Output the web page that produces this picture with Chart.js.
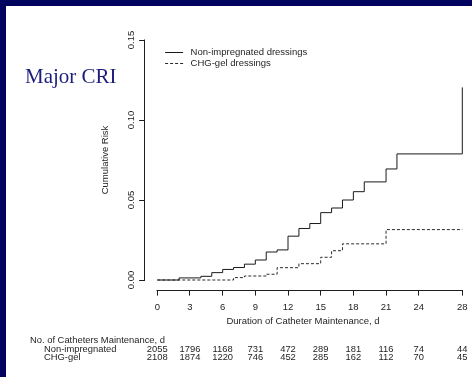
<!DOCTYPE html>
<html>
<head>
<meta charset="utf-8">
<title>Major CRI – cumulative risk</title>
<script src="https://cdn.jsdelivr.net/npm/chart.js@4.4.1/dist/chart.umd.min.js"></script>
<style>
  html, body { margin: 0; padding: 0; background: #fff; overflow: hidden; }
  #frame { position: relative; width: 472px; height: 377px; overflow: hidden; background: #fff; }
  #chart { position: absolute; left: 0; top: 0; }
  .bar-top { position: absolute; left: 0; top: 0; width: 472px; height: 6px; background: #02025f; }
  .bar-left { position: absolute; left: 0; top: 0; width: 6px; height: 377px; background: #02025f; }
</style>
</head>
<body>
<div id="frame">
  <canvas id="chart" width="480" height="377"></canvas>
  <div class="bar-top"></div>
  <div class="bar-left"></div>
</div>
<script>
// Kaplan–Meier style cumulative risk of major CRI by dressing type
const nonImpDays = [0, 2, 4, 5, 6, 7, 8, 9, 10, 11, 12, 13, 14, 15, 16, 17, 18, 19, 21, 22, 28];
const nonImpRisk = [0, 0.0013, 0.0023, 0.0046, 0.0066, 0.0078, 0.0099, 0.0125, 0.0175, 0.0188,
                    0.0274, 0.0322, 0.0353, 0.0421, 0.0450, 0.0500, 0.0552, 0.0613, 0.0694, 0.0788, 0.1204];

const chgDays = [0, 7, 8, 10, 11, 13, 15, 16, 17, 21, 28];
const chgRisk = [0, 0.0015, 0.0025, 0.0036, 0.0077, 0.0102, 0.0142, 0.0183, 0.0226, 0.0315, 0.0315];

const seriesLabels = ['Non-impregnated dressings', 'CHG-gel dressings'];

// axis ticks
const xTicks = [0, 3, 6, 9, 12, 15, 18, 21, 24, 28];
const yTicks = [0, 0.05, 0.10, 0.15];

// number of catheters still under maintenance at each x tick
const riskTableTitle = 'No. of Catheters Maintenance, d';
const riskRowLabels = ['Non-impregnated', 'CHG-gel'];
const atRiskNonImp = [2055, 1796, 1168, 731, 472, 289, 181, 116, 74, 44];
const atRiskChg = [2108, 1874, 1220, 746, 452, 285, 162, 112, 70, 45];

const heading = 'Major CRI';
const xTitle = 'Duration of Catheter Maintenance, d';
const yTitle = 'Cumulative Risk';

const SANS = '"Liberation Sans", Arial, sans-serif';
const INK = '#1e1e1e';

const toPoints = (xs, ys) => xs.map((x, i) => ({ x, y: ys[i] }));

// R-style extras: detached axis lines, legend, titles and the at-risk table
const decor = {
  id: 'decor',
  afterDraw(chart) {
    const { ctx, chartArea: a, scales: { x, y } } = chart;
    ctx.save();

    // axis lines only span the first to last tick
    ctx.strokeStyle = INK;
    ctx.lineWidth = 1;
    ctx.beginPath();
    const ax = Math.round(a.left) - 0.5;
    ctx.moveTo(ax, Math.round(y.getPixelForValue(yTicks[0])) + 0.5);
    ctx.lineTo(ax, Math.round(y.getPixelForValue(yTicks[yTicks.length - 1])) - 0.5);
    const ay = Math.round(a.bottom) + 0.5;
    ctx.moveTo(Math.round(x.getPixelForValue(xTicks[0])) - 0.5, ay);
    ctx.lineTo(Math.round(x.getPixelForValue(xTicks[xTicks.length - 1])) + 0.5, ay);
    ctx.stroke();

    // legend in the upper left of the plot
    ctx.font = '9.5px ' + SANS;
    ctx.textBaseline = 'middle';
    ctx.textAlign = 'left';
    chart.data.datasets.forEach((ds, i) => {
      const ly = Math.round(a.top + 22 + i * 11) + 0.5;
      ctx.strokeStyle = ds.borderColor;
      ctx.lineWidth = ds.borderWidth;
      ctx.setLineDash(ds.borderDash || []);
      ctx.beginPath();
      ctx.moveTo(a.left + 20, ly);
      ctx.lineTo(a.left + 38, ly);
      ctx.stroke();
      ctx.setLineDash([]);
      ctx.fillStyle = INK;
      ctx.fillText(ds.label, a.left + 45.5, ly);
    });

    // x axis title
    ctx.textAlign = 'center';
    ctx.fillStyle = INK;
    ctx.fillText(xTitle, 303, 321.5);

    // at-risk table
    ctx.font = '9.4px ' + SANS;
    ctx.textAlign = 'left';
    ctx.fillText(riskTableTitle, 30, 340.5);
    ctx.fillText(riskRowLabels[0], 44, 349.3);
    ctx.fillText(riskRowLabels[1], 44, 357.5);
    ctx.textAlign = 'center';
    xTicks.forEach((t, i) => {
      const px = x.getPixelForValue(t);
      ctx.fillText(String(atRiskNonImp[i]), px, 349.3);
      ctx.fillText(String(atRiskChg[i]), px, 357.5);
    });

    // slide heading
    ctx.font = '21px "Liberation Serif", "Times New Roman", serif';
    ctx.fillStyle = '#1d1d7c';
    ctx.textAlign = 'left';
    ctx.textBaseline = 'alphabetic';
    ctx.fillText(heading, 25, 83);

    ctx.restore();
  }
};

new Chart(document.getElementById('chart'), {
  type: 'line',
  data: {
    datasets: [
      {
        label: seriesLabels[0],
        data: toPoints(nonImpDays, nonImpRisk),
        stepped: 'before',
        borderColor: '#1a1a1a',
        borderWidth: 1,
        pointRadius: 0,
        fill: false
      },
      {
        label: seriesLabels[1],
        data: toPoints(chgDays, chgRisk),
        stepped: 'before',
        borderColor: '#2a2a2a',
        borderWidth: 1,
        borderDash: [3, 2],
        pointRadius: 0,
        fill: false
      }
    ]
  },
  options: {
    responsive: false,
    animation: false,
    layout: { padding: { left: 0, top: 30.4, right: 5.5, bottom: 0 } },
    plugins: { legend: { display: false }, tooltip: { enabled: false } },
    scales: {
      x: {
        type: 'linear',
        min: -1.12,
        max: 29.12,
        afterBuildTicks: s => { s.ticks = xTicks.map(v => ({ value: v })); },
        afterFit: s => { s.height = 377 - 289.6; },
        grid: { display: true, drawOnChartArea: false, drawTicks: true, tickLength: 6, color: INK, lineWidth: 1 },
        border: { display: false },
        ticks: {
          autoSkip: false, maxRotation: 0, padding: 6, color: INK,
          font: { family: SANS, size: 9.5 },
          callback: v => String(v)
        }
      },
      y: {
        type: 'linear',
        min: -0.006,
        max: 0.156,
        afterBuildTicks: s => { s.ticks = yTicks.map(v => ({ value: v })); },
        afterFit: s => { s.width = 145.1; },
        grid: { display: true, drawOnChartArea: false, drawTicks: true, tickLength: 6, color: INK, lineWidth: 1 },
        border: { display: false },
        ticks: {
          minRotation: 90, maxRotation: 90, crossAlign: 'center', padding: -2, color: INK,
          font: { family: SANS, size: 9.5 },
          callback: v => v.toFixed(2)
        },
        title: {
          display: true, text: yTitle, color: INK,
          font: { family: SANS, size: 9.5 },
          padding: { top: 100, bottom: 0 }
        }
      }
    }
  },
  plugins: [decor]
});
</script>
</body>
</html>
